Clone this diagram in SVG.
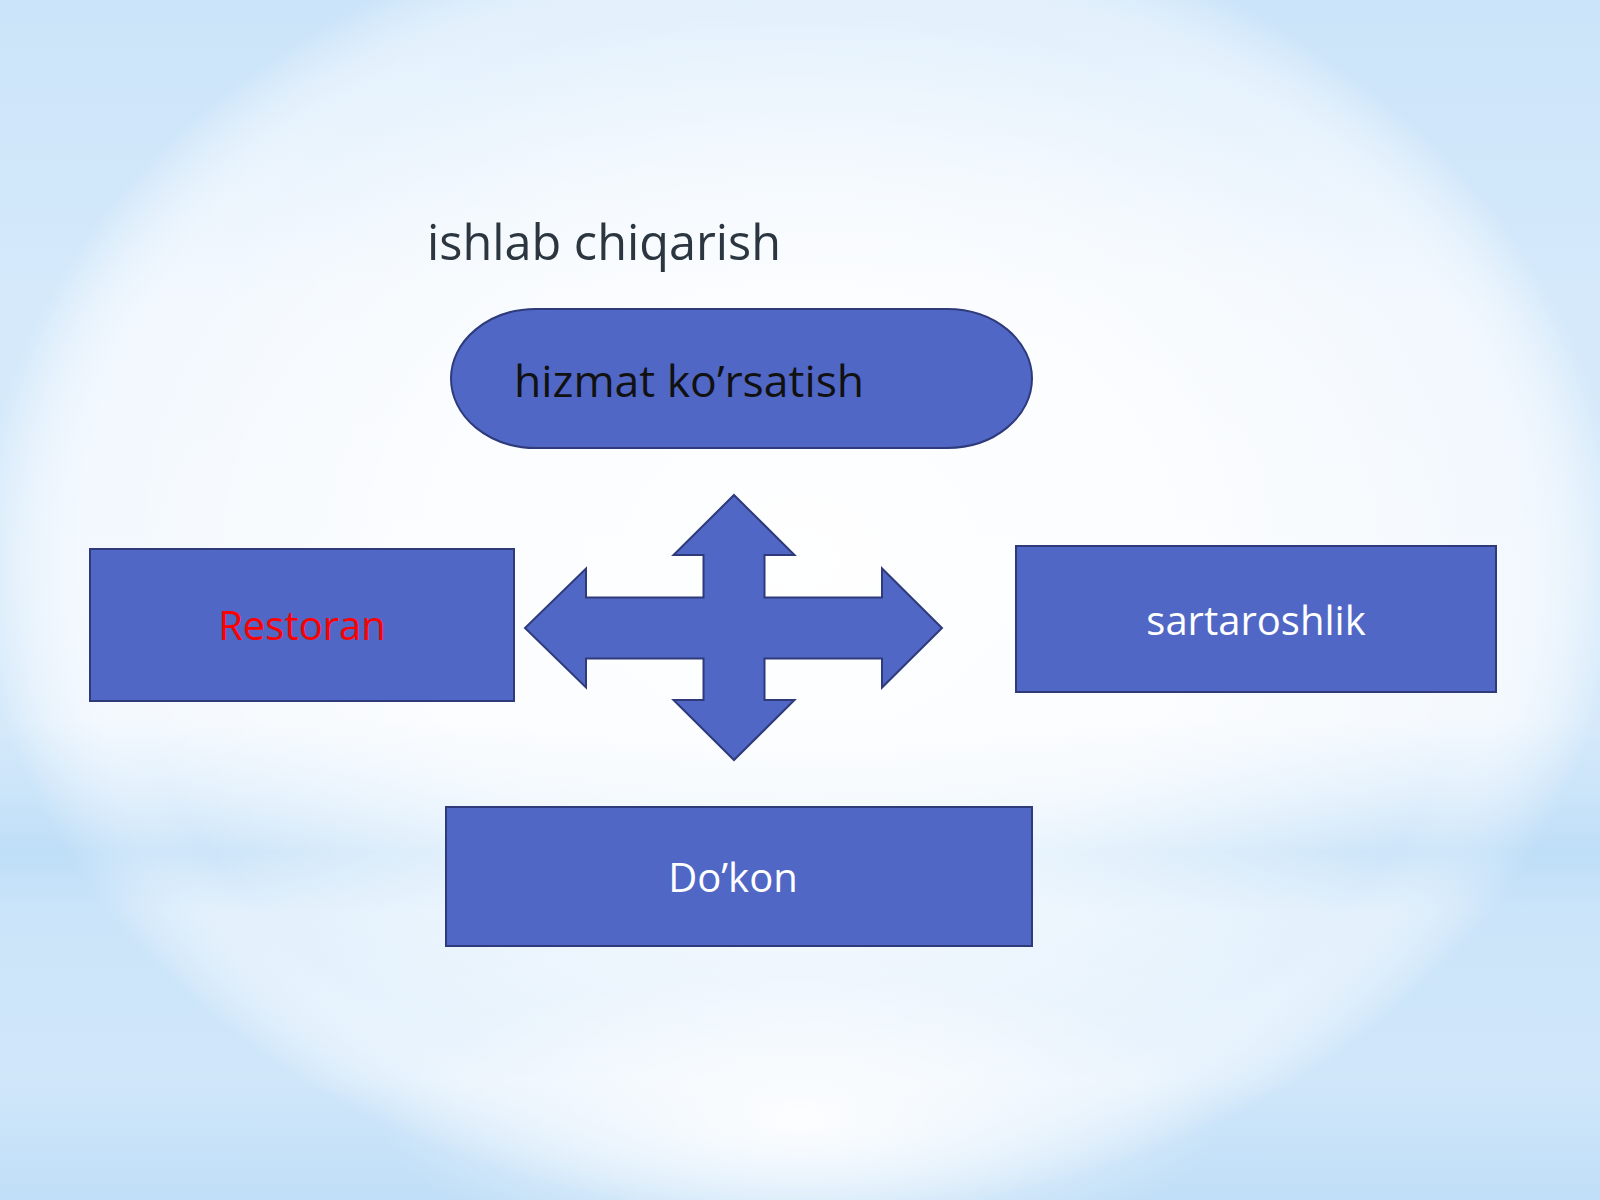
<svg xmlns="http://www.w3.org/2000/svg" width="1600" height="1200" viewBox="0 0 1600 1200">
<defs>
<linearGradient id="bgv" x1="0" y1="0" x2="0" y2="1">
<stop offset="0" stop-color="#e2f0fc"/>
<stop offset="0.25" stop-color="#f2f8fe"/>
<stop offset="0.6" stop-color="#f4f9fe"/>
<stop offset="0.66" stop-color="#e2f0fc"/>
<stop offset="0.71" stop-color="#cce5f9"/>
<stop offset="0.76" stop-color="#e2f0fc"/>
<stop offset="0.9" stop-color="#eaf4fd"/>
<stop offset="1" stop-color="#cfe6f9"/>
</linearGradient>
<radialGradient id="bgr" cx="800" cy="560" r="820" gradientUnits="userSpaceOnUse" gradientTransform="translate(0,560) scale(1,0.8) translate(0,-560)">
<stop offset="0" stop-color="#ffffff" stop-opacity="0.95"/>
<stop offset="0.5" stop-color="#ffffff" stop-opacity="0.6"/>
<stop offset="0.85" stop-color="#ffffff" stop-opacity="0"/>
<stop offset="1" stop-color="#a9d3f5" stop-opacity="0.4"/>
</radialGradient>
<radialGradient id="bgb" cx="800" cy="1120" r="420" gradientUnits="userSpaceOnUse" gradientTransform="translate(0,1120) scale(1,0.35) translate(0,-1120)">
<stop offset="0" stop-color="#ffffff" stop-opacity="0.9"/>
<stop offset="1" stop-color="#ffffff" stop-opacity="0"/>
</radialGradient>
<style>
.shape{fill:#5067c6;stroke:#2e3a7a;stroke-width:2}
.lbl{font-family:"Open Sans","Noto Sans","DejaVu Sans",sans-serif;font-size:40px;text-anchor:middle}
</style>
</defs>
<rect x="0" y="0" width="1600" height="1200" fill="url(#bgv)"/>
<rect x="0" y="0" width="1600" height="1200" fill="url(#bgr)"/>
<rect x="0" y="0" width="1600" height="1200" fill="url(#bgb)"/>

<g id="title">
<text x="427" y="260" font-family="'Open Sans','Noto Sans',sans-serif" font-size="48.6" fill="#2b3640">ishlab chiqarish</text>
</g>

<g id="node-hizmat">
<rect class="shape" x="451" y="309" width="581" height="139" rx="85" ry="69.5"/>
<text x="514" y="397" font-family="'Open Sans','Noto Sans',sans-serif" font-size="44.5" fill="#111">hizmat ko’rsatish</text>
</g>

<g id="node-restoran">
<rect class="shape" x="90" y="549" width="424" height="152"/>
<text class="lbl" x="302" y="640" fill="#ff0000">Restoran</text>
</g>

<g id="node-sartaroshlik">
<rect class="shape" x="1016" y="546" width="480" height="146"/>
<text class="lbl" x="1256" y="635" fill="#ffffff">sartaroshlik</text>
</g>

<g id="node-dokon">
<rect class="shape" x="446" y="807" width="586" height="139"/>
<text class="lbl" x="733" y="892" fill="#ffffff">Do’kon</text>
</g>

<g id="connectors">
<path class="shape" d="M734,495 L794.5,555 L764.5,555 L764.5,597.5 L882,597.5 L882,568.5 L942,628 L882,687.5 L882,658.5 L764.5,658.5 L764.5,700 L794.5,700 L734,760 L673.5,700 L703.5,700 L703.5,658.5 L586,658.5 L586,687.5 L525,628 L586,568.5 L586,597.5 L703.5,597.5 L703.5,555 L673.5,555 Z"/>
</g>
</svg>
